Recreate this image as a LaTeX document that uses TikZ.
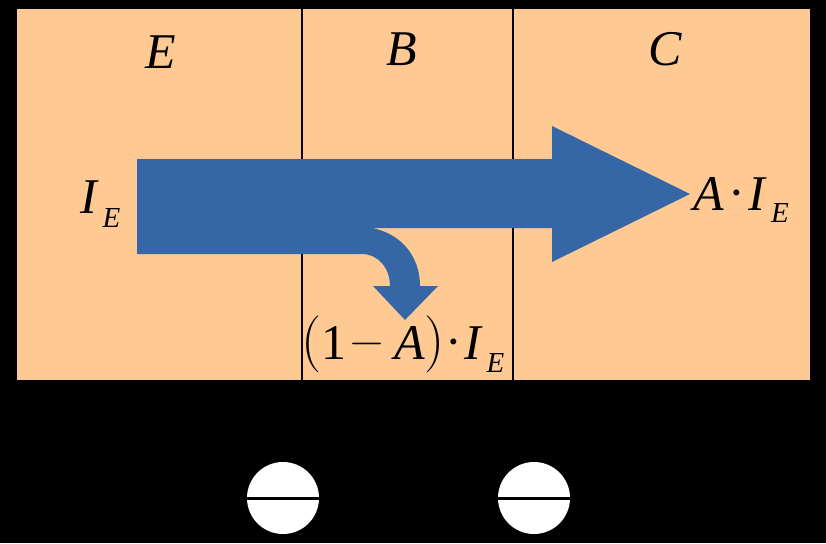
\documentclass[tikz,border=0pt]{standalone}
\usepackage{fontspec}
\setmainfont{Liberation Serif}
\newfontfamily\thinparen{Latin Modern Roman}
\definecolor{regionfill}{HTML}{FFC993}
\definecolor{flowblue}{HTML}{3566A6}
\newcommand{\symb}[1]{\textit{#1}}
\tikzset{
  lab/.style={inner sep=0pt,font=\fontsize{50}{50}\selectfont,text=black,anchor=base},
  subs/.style={inner sep=0pt,font=\fontsize{29}{29}\selectfont\itshape,text=black,anchor=base},
  paren/.style={inner sep=0pt,font=\fontsize{57}{57}\selectfont\thinparen,text=black,anchor=base},
  minussign/.style={inner sep=0pt,font=\fontsize{46}{46}\selectfont\thinparen,text=black,anchor=base},
  divider/.style={draw=black,line width=2.4pt},
}
\begin{document}
\begin{tikzpicture}[x=1pt,y=-1pt]
\useasboundingbox (0,0) rectangle (826,543);
\fill[black] (0,0) rectangle (826,543);
\fill[regionfill] (16.5,9) rectangle (810,380);
\draw[divider] (302,9) -- (302,380);
\draw[divider] (513,9) -- (513,380);
% flow arrows
\fill[flowblue] (137,159) -- (552,159) -- (552,126) -- (690,194) -- (552,262) -- (552,228)
  -- (372,228) .. controls (402,234) and (420,257) .. (420,286)
  -- (438,286) -- (405,320) -- (373,286) -- (390,286)
  .. controls (390,268) and (378,254) .. (362,254)
  -- (137,254) -- cycle;
% region labels
\node[lab] (e) at (161,68) {\symb{E}};
\node[lab] (b) at (401.5,65) {\symb{B}};
\node[lab] (c) at (665,65) {\symb{C}};
% currents
\node[lab] (ie) at (90,213) {\symb{I}};
\node[subs] (iesub) at (111.5,227) {E};
\node[lab] (ai) at (709,210) {\symb{A}};
\node[lab] (aidot) at (737,209) {·};
\node[lab] (ai2) at (758,210) {\symb{I}};
\node[subs] (aisub) at (780,222) {E};
\node[paren] (lp) at (312,358) {\makebox[12pt]{(}};
\node[lab] (one) at (334,359) {1};
\node[minussign] (minus) at (367,355.5) {−};
\node[lab] (a) at (409.5,359) {\symb{A}};
\node[paren,anchor=base west] (rp) at (424,358) {)\kern0.75pt{\fontsize{50}{50}\selectfont\rmfamily ·}};
\node[lab] (i) at (474,359) {\symb{I}};
\node[subs] (isub) at (495.5,372) {E};
% terminals
\fill[white] (283,498) circle (36);
\fill[white] (534,498) circle (36);
\draw[black,line width=3pt] (246,498) -- (320,498);
\draw[black,line width=3pt] (497,498) -- (571,498);
\end{tikzpicture}
\end{document}
